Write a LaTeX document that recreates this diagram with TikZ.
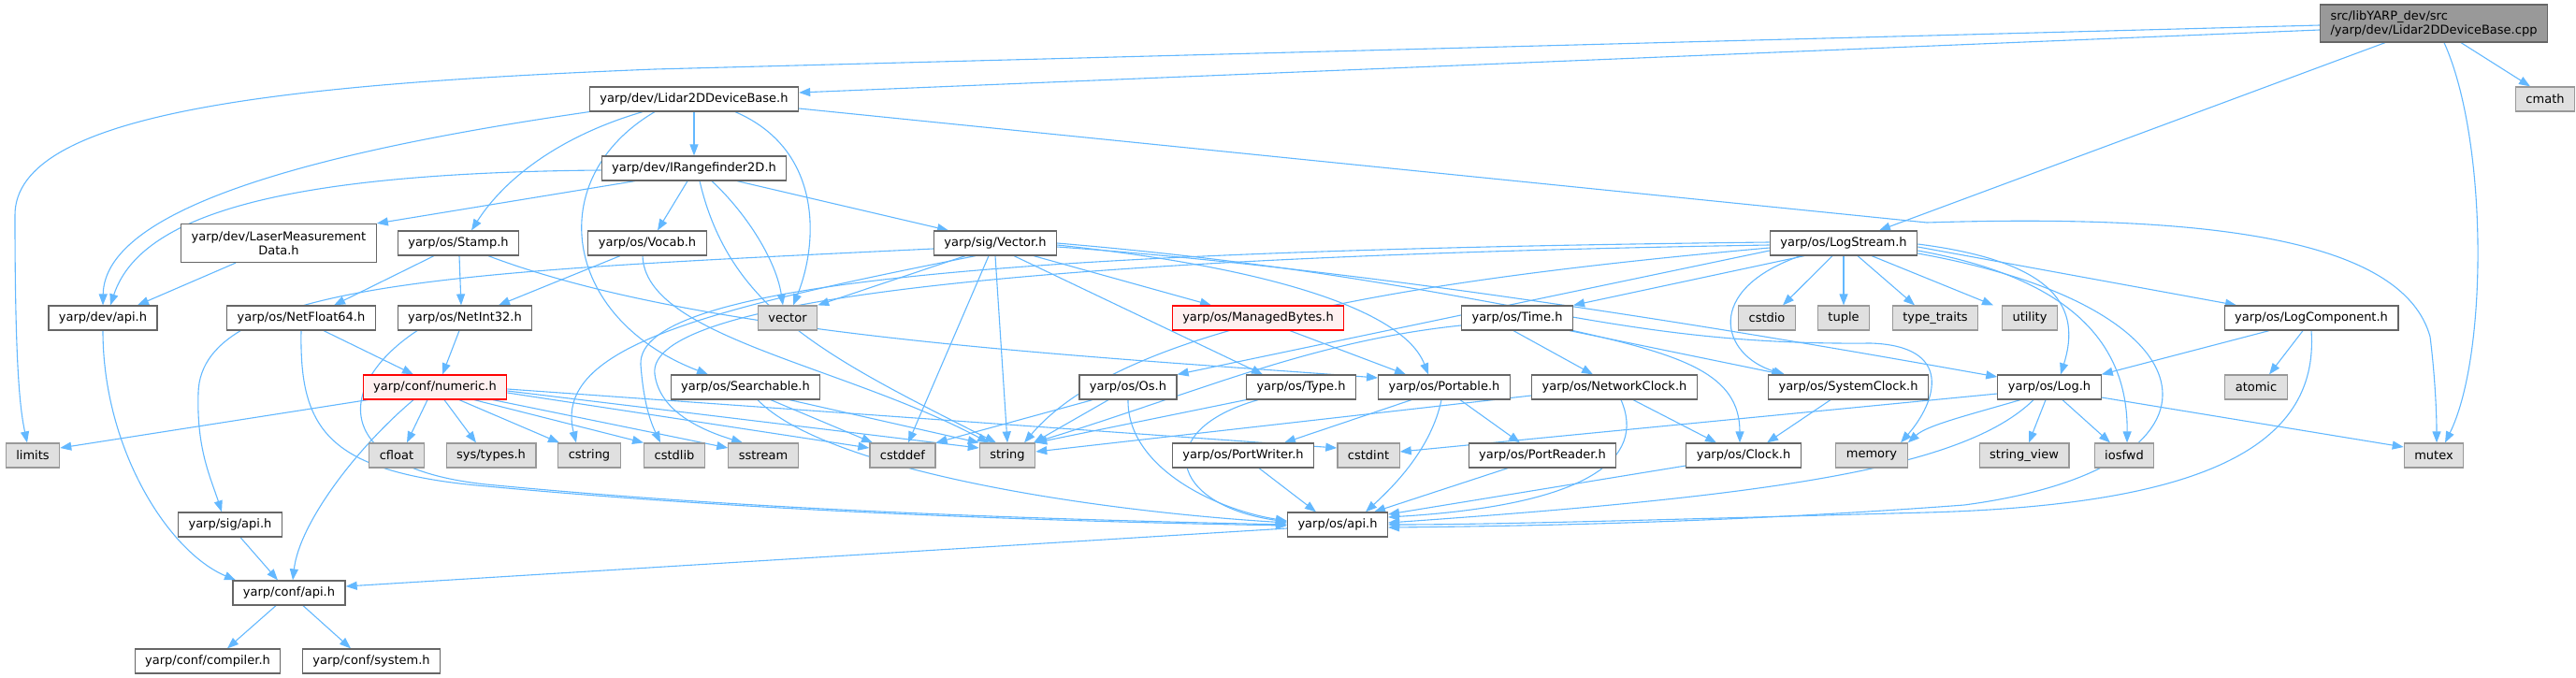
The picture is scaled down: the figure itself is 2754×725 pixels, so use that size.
\documentclass[tikz,border=0pt]{standalone}
\usepackage{fontspec}
\setmainfont{DejaVu Sans}
\usepackage{xcolor}
\usepackage{tikz}
\usetikzlibrary{arrows.meta, backgrounds}
\definecolor{edgeblue}{HTML}{63B8FF}
\definecolor{boxgray}{HTML}{666666}
\definecolor{sysgray}{HTML}{999999}
\definecolor{sysfill}{HTML}{E0E0E0}
\definecolor{rootfill}{HTML}{999999}
\definecolor{cutfill}{HTML}{FFF0F0}
\tikzset{
  hdrbox/.style={
    draw=boxgray, fill=white, line width=1.2pt, text=black,
    minimum height=26pt, inner xsep=11pt, inner ysep=2pt,
    font=\fontsize{13}{15}\selectfont
  },
  sysbox/.style={
    hdrbox, draw=sysgray, fill=sysfill
  },
  cutbox/.style={
    hdrbox, draw=red, fill=cutfill
  },
  rootbox/.style={
    hdrbox, fill=rootfill, align=left, minimum height=40pt
  },
  incl/.style={
    -{Triangle[length=12pt,width=9pt]}, draw=edgeblue, line width=1.1pt
  },
}

\begin{document}
\begin{tikzpicture}[x=1pt, y=-1pt]
  \useasboundingbox (0,0) rectangle (2754,725);

  % Source file and first level
  \node[rootbox] (root) at (2602,25) {src/libYARP\_dev/src\\/yarp/dev/Lidar2DDeviceBase.cpp};
  \node[hdrbox] (lidar) at (742,106) {yarp/dev/Lidar2DDeviceBase.h};
  \node[sysbox] (cmath) at (2721,106) {cmath};
  \node[hdrbox] (irange) at (742,180) {yarp/dev/IRangefinder2D.h};

  % Row 3
  \node[hdrbox, align=center, minimum height=41pt] (laser) at (298,260)
    {yarp/dev/LaserMeasurement\\Data.h};
  \node[hdrbox] (stamp) at (490,260) {yarp/os/Stamp.h};
  \node[hdrbox] (vocab) at (692,260) {yarp/os/Vocab.h};
  \node[hdrbox] (vector) at (1064,260) {yarp/sig/Vector.h};
  \node[hdrbox] (logstream) at (1971,260) {yarp/os/LogStream.h};

  % Row 4
  \node[hdrbox] (devapi) at (110,340) {yarp/dev/api.h};
  \node[hdrbox] (netfloat) at (322,340) {yarp/os/NetFloat64.h};
  \node[hdrbox] (netint) at (497,340) {yarp/os/NetInt32.h};
  \node[sysbox] (stdvector) at (842,340) {vector};
  \node[cutbox] (managed) at (1345,340) {yarp/os/ManagedBytes.h};
  \node[hdrbox] (time) at (1622,340) {yarp/os/Time.h};
  \node[sysbox] (cstdio) at (1889,340) {cstdio};
  \node[sysbox] (tuple) at (1971,340) {tuple};
  \node[sysbox] (typetraits) at (2069,340) {type\_traits};
  \node[sysbox] (utility) at (2170,340) {utility};
  \node[hdrbox] (logcomp) at (2471,340) {yarp/os/LogComponent.h};

  % Row 5
  \node[cutbox] (numeric) at (465,414) {yarp/conf/numeric.h};
  \node[hdrbox] (searchable) at (797,414) {yarp/os/Searchable.h};
  \node[hdrbox] (os) at (1206,414) {yarp/os/Os.h};
  \node[hdrbox] (type) at (1391,414) {yarp/os/Type.h};
  \node[hdrbox] (portable) at (1544,414) {yarp/os/Portable.h};
  \node[hdrbox] (netclock) at (1726,414) {yarp/os/NetworkClock.h};
  \node[hdrbox] (sysclock) at (1976,414) {yarp/os/SystemClock.h};
  \node[hdrbox] (log) at (2191,414) {yarp/os/Log.h};
  \node[sysbox] (atomic) at (2412,414) {atomic};

  % Row 6
  \node[sysbox] (limits) at (35,487) {limits};
  \node[sysbox] (cfloat) at (424,487) {cfloat};
  \node[sysbox] (systypes) at (525,487) {sys/types.h};
  \node[sysbox] (cstring) at (630,487) {cstring};
  \node[sysbox] (cstdlib) at (721,487) {cstdlib};
  \node[sysbox] (sstream) at (816,487) {sstream};
  \node[sysbox] (cstddef) at (965,487) {cstddef};
  \node[sysbox] (string) at (1077,487) {string};
  \node[hdrbox] (portwriter) at (1329,487) {yarp/os/PortWriter.h};
  \node[sysbox] (cstdint) at (1463,487) {cstdint};
  \node[hdrbox] (portreader) at (1649,487) {yarp/os/PortReader.h};
  \node[hdrbox] (clock) at (1864,487) {yarp/os/Clock.h};
  \node[sysbox] (memory) at (2001,487) {memory};
  \node[sysbox] (stringview) at (2164,487) {string\_view};
  \node[sysbox] (iosfwd) at (2271,487) {iosfwd};
  \node[sysbox] (mutex) at (2602,487) {mutex};

  % Bottom rows
  \node[hdrbox] (sigapi) at (246,561) {yarp/sig/api.h};
  \node[hdrbox] (osapi) at (1430,561) {yarp/os/api.h};
  \node[hdrbox] (confapi) at (309,634) {yarp/conf/api.h};
  \node[hdrbox] (compiler) at (222,707) {yarp/conf/compiler.h};
  \node[hdrbox] (system) at (397,707) {yarp/conf/system.h};

  \begin{scope}[on background layer]
  % From the source file
  \draw[incl] ([yshift=-2pt]root.west) -- (700,74) .. controls (300,90) and (16,120) .. (16,230)
    .. controls (16,400) and (22,440) .. ([xshift=-6pt]limits.north);
  \draw[incl] ([yshift=-7pt]root.west) -- ([yshift=7pt]lidar.east);
  \draw[incl] ([xshift=-52pt]root.south) -- ([xshift=38pt]logstream.north);
  \draw[incl] ([xshift=29pt]root.south) -- ([xshift=-16pt]cmath.north);
  \draw[incl] ([xshift=11pt]root.south) .. controls (2660,150) and (2660,380) .. ([xshift=12pt]mutex.north);

  % Lidar2DDeviceBase.h
  \draw[incl] (lidar.south west) .. controls (350,160) and (112,220) .. (devapi.north);
  \draw[incl] (lidar) -- (irange);
  \draw[incl] ([xshift=-55pt]lidar.south) .. controls (600,145) and (540,190) .. ([xshift=14pt]stamp.north);
  \draw[incl] ([xshift=-42pt]lidar.south) .. controls (580,190) and (600,340) .. ([xshift=-40pt]searchable.north);
  \draw[incl] ([xshift=44pt]lidar.south) .. controls (880,160) and (875,260) .. ([xshift=6pt]stdvector.north);
  \draw[incl] ([yshift=-10pt]lidar.east) -- (2060,238) .. controls (2380,228) and (2570,260) .. (2598,360)
    .. controls (2603,400) and (2605,440) .. ([xshift=3pt]mutex.north);

  % IRangefinder2D.h
  \draw[incl] ([yshift=-2pt]irange.west) .. controls (300,185) and (150,230) .. ([xshift=8pt]devapi.north);
  \draw[incl] ([xshift=-63pt]irange.south) -- (laser.north east);
  \draw[incl] ([xshift=-7pt]irange.south) -- ([xshift=11pt]vocab.north);
  \draw[incl] ([xshift=19pt]irange.south) .. controls (800,230) and (830,280) .. ([xshift=-5pt]stdvector.north);
  \draw[incl] ([xshift=6pt]irange.south) .. controls (780,330) and (880,380) .. ([xshift=-12pt]string.north);
  \draw[incl] ([xshift=46pt]irange.south) -- ([xshift=-50pt]vector.north);
  \draw[incl] ([xshift=-46pt]laser.south) -- ([xshift=37pt]devapi.north);

  % Stamp.h and Vocab.h
  \draw[incl] ([xshift=-26pt]stamp.south) -- ([xshift=35pt]netfloat.north);
  \draw[incl] ([xshift=1pt]stamp.south) -- ([xshift=-4pt]netint.north);
  \draw[incl] ([xshift=32pt]stamp.south) .. controls (750,360) and (1150,380) .. ([yshift=10pt]portable.west);
  \draw[incl] ([xshift=-29pt]vocab.south) -- ([xshift=36pt]netint.north);
  \draw[incl] ([xshift=-5pt]vocab.south) .. controls (690,360) and (900,390) .. ([xshift=-20pt]string.north);

  % Vector.h
  \draw[incl] ([yshift=-6pt]vector.west) .. controls (500,290) and (215,300) .. (212,420)
    .. controls (210,480) and (225,510) .. ([xshift=-9pt]sigapi.north);
  \draw[incl] ([xshift=-32pt]vector.south) -- (stdvector.north east);
  \draw[incl] ([xshift=-21pt]vector.south) .. controls (760,330) and (590,370) .. ([xshift=-14pt]cstring.north);
  \draw[incl] ([xshift=-7pt]vector.south) -- ([xshift=6pt]cstddef.north);
  \draw[incl] (vector.south) -- (string.north);
  \draw[incl] ([xshift=20pt]vector.south) -- ([xshift=-41pt]type.north);
  \draw[incl] ([xshift=41pt]vector.south) -- ([xshift=-50pt]managed.north);
  \draw[incl] ([yshift=-2pt]vector.east) .. controls (1350,285) and (1500,330) .. ([xshift=-17pt]portable.north);
  \draw[incl] ([yshift=-4pt]vector.east) .. controls (1500,290) and (1950,370) .. ([yshift=11pt]log.west);
  \draw[incl] (vector.east) .. controls (1600,300) and (1700,370) .. (2000,367)
    .. controls (2090,370) and (2070,430) .. ([xshift=31pt]memory.north);
  \draw[incl] ([xshift=34pt]managed.south) -- ([xshift=-41pt]portable.north);

  % LogStream.h
  \draw[incl] ([xshift=-12pt]logstream.south) -- ([xshift=17pt]cstdio.north);
  \draw[incl] (logstream) -- (tuple);
  \draw[incl] ([xshift=15pt]logstream.south) -- ([xshift=-22pt]typetraits.north);
  \draw[incl] ([xshift=30pt]logstream.south) -- ([xshift=-39pt]utility.north);
  \draw[incl] ([xshift=-42pt]logstream.south) -- (time.north east);
  \draw[incl] ([yshift=-8pt]logstream.west) -- (os.north east);
  \draw[incl] ([yshift=-5pt]logstream.west) .. controls (1500,300) and (1200,350) .. ([xshift=18pt]string.north);
  \draw[incl] ([yshift=-2pt]logstream.west) .. controls (1100,275) and (690,320) .. (700,400)
    .. controls (705,440) and (750,460) .. ([xshift=-22pt]sstream.north);
  \draw[incl] ([yshift=1pt]logstream.west) .. controls (1100,268) and (680,300) .. (685,390)
    .. controls (688,430) and (695,450) .. ([xshift=-15pt]cstdlib.north);
  \draw[incl] ([xshift=-46pt]logstream.south) .. controls (1820,310) and (1840,380) .. ([xshift=-68pt]sysclock.north);
  \draw[incl] ([yshift=-4pt]logstream.east) -- ([xshift=-80pt]logcomp.north);
  \draw[incl] ([yshift=-1pt]logstream.east) .. controls (2200,280) and (2225,330) .. ([xshift=12pt]log.north);
  \draw[incl] ([yshift=-8pt]logstream.east) .. controls (2230,300) and (2275,380) .. ([xshift=3pt]iosfwd.north);
  \draw[incl] ([yshift=-11pt]logstream.east) .. controls (2380,330) and (2400,500) .. (2100,540)
    .. controls (1900,555) and (1700,562) .. ([yshift=-3pt]osapi.east);

  % LogComponent.h and Log.h
  \draw[incl] ([xshift=-45pt]logcomp.south) -- (log.north east);
  \draw[incl] ([xshift=-9pt]logcomp.south) -- ([xshift=14pt]atomic.north);
  \draw[incl] (logcomp.south) .. controls (2480,480) and (2350,540) .. (2060,548)
    .. controls (1800,555) and (1600,561) .. (osapi.east);
  \draw[incl] ([yshift=-7pt]log.west) -- ([yshift=4pt]cstdint.east);
  \draw[incl] ([xshift=-31pt]log.south) .. controls (2100,445) and (2060,455) .. (memory.north east);
  \draw[incl] ([xshift=-17pt]log.south) .. controls (2100,500) and (1900,530) .. ([yshift=2pt]osapi.east);
  \draw[incl] ([xshift=-4pt]log.south) -- ([xshift=5pt]stringview.north);
  \draw[incl] ([xshift=14pt]log.south) -- ([xshift=-15pt]iosfwd.north);
  \draw[incl] ([yshift=-11pt]log.east) -- ([yshift=9pt]mutex.west);

  % Time.h and the clocks
  \draw[incl] ([xshift=-4pt]time.south) -- ([xshift=-23pt]netclock.north);
  \draw[incl] ([xshift=56pt]time.south) -- ([xshift=-70pt]sysclock.north);
  \draw[incl] (time.south east) .. controls (1800,380) and (1860,400) .. ([xshift=-4pt]clock.north);
  \draw[incl] ([yshift=-8pt]time.west) .. controls (1400,365) and (1280,420) .. ([xshift=28pt]string.north);
  \draw[incl] ([xshift=-19pt]sysclock.south) -- ([xshift=25pt]clock.north);
  \draw[incl] ([xshift=20pt]netclock.south) -- ([xshift=-29pt]clock.north);
  \draw[incl] ([xshift=7pt]netclock.south) .. controls (1760,490) and (1700,540) .. ([yshift=8pt]osapi.east);
  \draw[incl] ([yshift=-9pt]netclock.west) -- ([yshift=4pt]string.east);
  \draw[incl] ([yshift=-11pt]clock.west) -- ([yshift=11pt]osapi.east);

  % Portable.h and the ports
  \draw[incl] ([xshift=-37pt]portreader.south) -- ([xshift=39pt]osapi.north);
  \draw[incl] ([xshift=17pt]portwriter.south) -- ([xshift=-23pt]osapi.north);
  \draw[incl] ([xshift=17pt]portable.south) -- ([xshift=-24pt]portreader.north);
  \draw[incl] ([xshift=-35pt]portable.south) -- ([xshift=44pt]portwriter.north);
  \draw[incl] ([xshift=-3pt]portable.south) .. controls (1530,480) and (1490,520) .. ([xshift=30pt]osapi.north);

  % Type.h, Os.h, Searchable.h
  \draw[incl] (type.south west) -- (string.north east);
  \draw[incl] ([xshift=-46pt]type.south) .. controls (1230,460) and (1250,540) .. ([yshift=3pt]osapi.west);
  \draw[incl] ([xshift=-21pt]os.south) -- ([xshift=28pt]string.north);
  \draw[incl] ([xshift=-38pt]os.south) -- (cstddef.north east);
  \draw[incl] (os.south) .. controls (1205,500) and (1300,545) .. ([yshift=4pt]osapi.west);
  \draw[incl] ([xshift=47pt]searchable.south) -- (string.north west);
  \draw[incl] ([xshift=27pt]searchable.south) -- ([xshift=-32pt]cstddef.north);
  \draw[incl] ([xshift=13pt]searchable.south) .. controls (880,500) and (1150,545) .. ([yshift=2pt]osapi.west);

  % NetInt32.h and NetFloat64.h
  \draw[incl] ([xshift=-6pt]netint.south) -- ([xshift=8pt]numeric.north);
  \draw[incl] ([xshift=-51pt]netint.south) .. controls (360,410) and (350,500) .. (520,518)
    .. controls (800,545) and (1100,555) .. (osapi.west);
  \draw[incl] ([xshift=24pt]netfloat.south) -- ([xshift=-23pt]numeric.north);
  \draw[incl] (netfloat.south) .. controls (320,460) and (350,505) .. (520,520)
    .. controls (800,546) and (1100,557) .. ([yshift=-1pt]osapi.west);

  % numeric.h
  \draw[incl] ([xshift=-23pt]numeric.south) .. controls (380,480) and (320,560) .. ([xshift=4pt]confapi.north);
  \draw[incl] ([xshift=-72pt]numeric.south) -- ([yshift=8pt]limits.east);
  \draw[incl] ([xshift=-8pt]numeric.south) -- ([xshift=11pt]cfloat.north);
  \draw[incl] ([xshift=10pt]numeric.south) -- ([xshift=-16pt]systypes.north);
  \draw[incl] ([xshift=26pt]numeric.south) -- ([xshift=-32pt]cstring.north);
  \draw[incl] ([xshift=42pt]numeric.south) -- (cstdlib.north west);
  \draw[incl] ([xshift=62pt]numeric.south) -- ([yshift=8pt]sstream.west);
  \draw[incl] ([yshift=-6pt]numeric.east) -- ([yshift=8pt]cstddef.west);
  \draw[incl] ([yshift=-4pt]numeric.east) -- ([yshift=8pt]string.west);
  \draw[incl] ([yshift=-2pt]numeric.east) -- ([yshift=8pt]cstdint.west);

  % api headers
  \draw[incl] (devapi.south) .. controls (110,480) and (180,590) .. ([xshift=-57pt]confapi.north);
  \draw[incl] ([xshift=11pt]sigapi.south) -- ([xshift=-12pt]confapi.north);
  \draw[incl] ([yshift=-4pt]osapi.west) -- ([yshift=7pt]confapi.east);
  \draw[incl] ([xshift=-14pt]confapi.south) -- ([xshift=21pt]compiler.north);
  \draw[incl] ([xshift=15pt]confapi.south) -- ([xshift=-22pt]system.north);
  \end{scope}
\end{tikzpicture}
\end{document}
